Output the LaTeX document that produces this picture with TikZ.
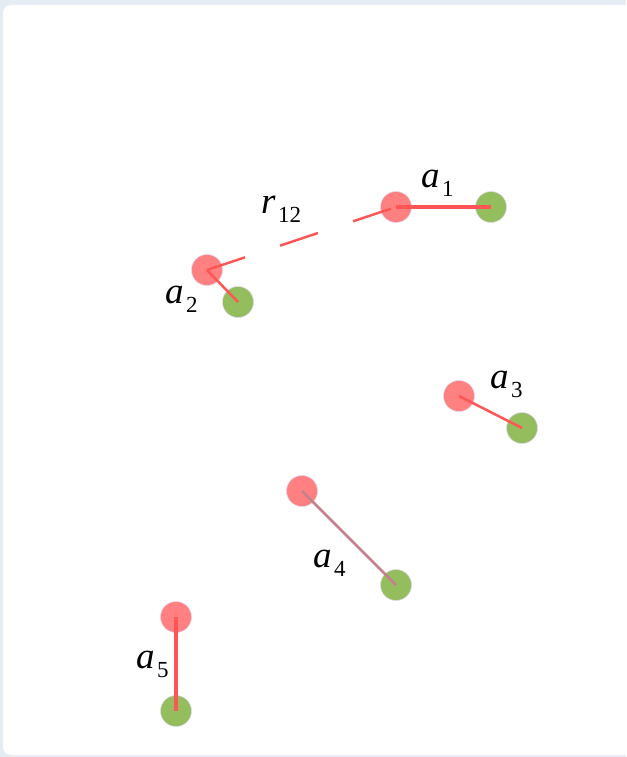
\documentclass[tikz,border=0pt]{standalone}
\usepackage{fontspec}
\setmainfont{Liberation Serif}
\definecolor{bgc}{RGB}{228,236,244}
\definecolor{poscol}{RGB}{255,128,128}
\definecolor{negcol}{RGB}{148,190,94}
\definecolor{linecol}{RGB}{255,85,85}
\definecolor{greycol}{RGB}{196,128,140}
\definecolor{rimcol}{RGB}{226,214,240}
\newcommand{\dlab}[2]{{\fontsize{37}{37}\selectfont\itshape #1}\hspace{2.5pt}\raisebox{-9pt}{\fontsize{23}{23}\selectfont #2}}
\begin{document}
\begin{tikzpicture}[x=1pt,y=-1pt,
  posball/.style={circle,fill=poscol,draw=rimcol,line width=0.5pt,minimum size=31pt,inner sep=0pt},
  negball/.style={circle,fill=negcol,draw=rimcol,line width=0.5pt,minimum size=31pt,inner sep=0pt},
  thickbond/.style={draw=linecol,line width=4pt},
  thinbond/.style={draw=linecol,line width=2.5pt},
  greybond/.style={draw=greycol,line width=2.5pt},
  sepline/.style={draw=linecol,line width=2.5pt,dash pattern=on 40pt off 37pt},
  dlabel/.style={anchor=base west,inner sep=0pt}]
\useasboundingbox (0,0) rectangle (626,757);
\fill[bgc] (0,0) rectangle (626,757);
\fill[white,rounded corners=8pt] (3,5) rectangle (660,755);
% dipoles
\node[posball] (p1) at (396,207) {};
\node[negball] (n1) at (491,207) {};
\node[posball] (p2) at (207,270) {};
\node[negball] (n2) at (238,302) {};
\node[posball] (p3) at (459,396) {};
\node[negball] (n3) at (522,428) {};
\node[posball] (p4) at (302,491) {};
\node[negball] (n4) at (396,585) {};
\node[posball] (p5) at (176,617) {};
\node[negball] (n5) at (176,711) {};
% bonds
\draw[thickbond] (p1.center) -- (n1.center);
\draw[thinbond] (p2.center) -- (n2.center);
\draw[thinbond] (p3.center) -- (n3.center);
\draw[greybond] (p4.center) -- (n4.center);
\draw[thickbond] (p5.center) -- (n5.center);
\draw[sepline] (p2.center) -- (p1.center);
% labels
\node[dlabel] (l1) at (421,187) {\dlab{a}{1}};
\node[dlabel] (l12) at (261,213) {\dlab{r}{12}};
\node[dlabel] (l2) at (165,303) {\dlab{a}{2}};
\node[dlabel] (l3) at (490,388) {\dlab{a}{3}};
\node[dlabel] (l4) at (313,567) {\dlab{a}{4}};
\node[dlabel] (l5) at (136,668) {\dlab{a}{5}};
\end{tikzpicture}
\end{document}
